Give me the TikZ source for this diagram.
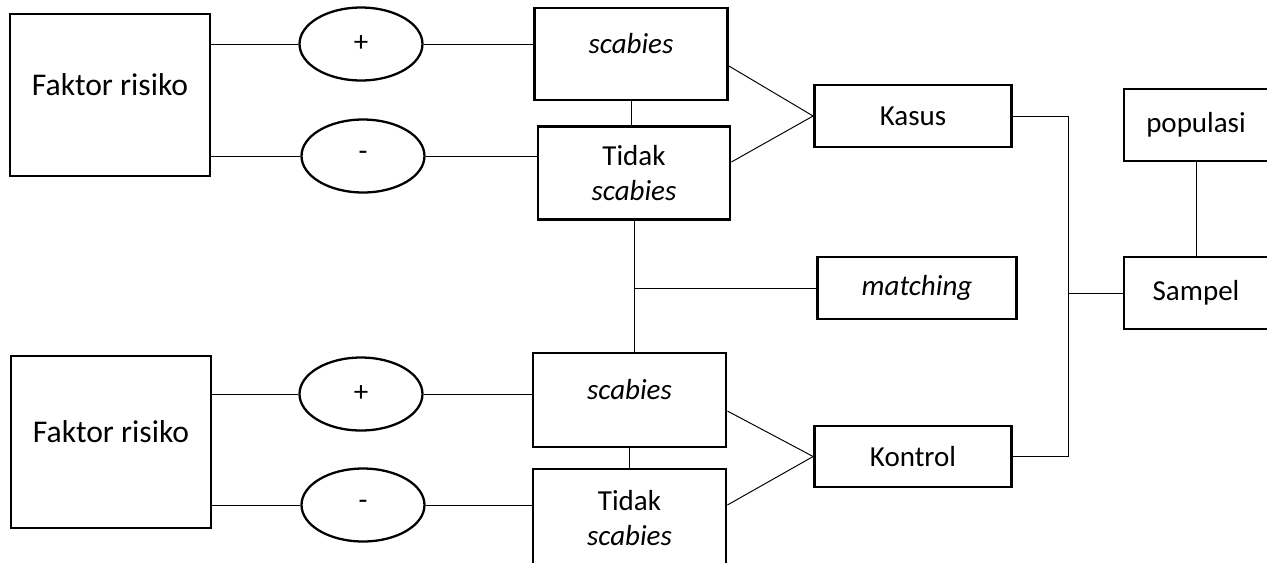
\documentclass[tikz,border=0pt]{standalone}
\usepackage{fontspec}
\setmainfont{Carlito}
\usetikzlibrary{shapes.geometric, calc}

\begin{document}
\begin{tikzpicture}[x=0.02cm,y=-0.02cm,
  font=\fontsize{16.5pt}{20pt}\selectfont,
  box/.style={draw,line width=1.6pt,inner sep=0pt,align=center},
  oval/.style={ellipse,draw,line width=1.3pt,inner sep=0pt,minimum width=2.46cm,minimum height=1.46cm},
  upper/.style={label={[yshift=0.2cm]center:#1}},
  bigupper/.style={label={[yshift=0.2cm,font=\fontsize{18pt}{22pt}\selectfont]center:#1}},
  link/.style={line width=0.55pt}]
  \useasboundingbox (0,0) rectangle (1267,562);
  \clip (0,0) rectangle (1267,562);
  % atas
  \node[box,minimum width=4cm,minimum height=3.24cm,bigupper=Faktor risiko] (faktorA) at (110,95) {};
  \node[oval] (plusA) at (361,44) {+};
  \node[oval] (minA) at (363,156) {-};
  \node[box,minimum width=3.86cm,minimum height=1.84cm,upper=\textit{scabies}] (scabA) at (631,54) {};
  \node[box,minimum width=3.84cm,minimum height=1.86cm] (tidakA) at (634,173) {Tidak\\\textit{scabies}};
  \node[box,minimum width=3.94cm,minimum height=1.24cm] (kasus) at (913,116) {Kasus};
  % kanan
  \node[box,minimum width=2.88cm,minimum height=1.44cm] (populasi) at (1196,125) {populasi};
  \node[box,minimum width=2.88cm,minimum height=1.44cm] (sampel) at (1196,293) {Sampel};
  \node[box,minimum width=3.98cm,minimum height=1.24cm] (matching) at (917,288) {\textit{matching}};
  % bawah
  \node[box,minimum width=4cm,minimum height=3.44cm,bigupper=Faktor risiko] (faktorB) at (111,442) {};
  \node[oval] (plusB) at (361,394) {+};
  \node[oval] (minB) at (363,505) {-};
  \node[box,minimum width=3.86cm,minimum height=1.88cm,upper=\textit{scabies}] (scabB) at (629.5,400) {};
  \node[box,minimum width=3.86cm,minimum height=1.96cm] (tidakB) at (629.5,518) {Tidak\\\textit{scabies}};
  \node[box,minimum width=3.94cm,minimum height=1.22cm] (kontrol) at (913,456.5) {Kontrol};
  \coordinate (split) at (1068,293);

  \draw[link] (faktorA.east |- plusA.west) -- (plusA.west);
  \draw[link] (faktorA.east |- minA.west) -- (minA.west);
  \draw[link] (plusA.east) -- (plusA.east -| scabA.west);
  \draw[link] (minA.east) -- (minA.east -| tidakA.west);
  \draw[link] ([yshift=-0.24cm]scabA.east) -- (kasus.west);
  \draw[link] ([yshift=0.22cm]tidakA.east) -- (kasus.west);
  \draw[link] (scabA.south) -- (scabA.south |- tidakA.north);
  \draw[link] (tidakA.south) -- (tidakA.south |- scabB.north);
  \draw[link] (tidakA.south |- matching.west) -- (matching.west);
  \draw[link] (faktorB.east |- plusB.west) -- (plusB.west);
  \draw[link] (faktorB.east |- minB.west) -- (minB.west);
  \draw[link] (plusB.east) -- (plusB.east -| scabB.west);
  \draw[link] (minB.east) -- (minB.east -| tidakB.west);
  \draw[link] ([yshift=-0.22cm]scabB.east) -- (kontrol.west);
  \draw[link] ([yshift=0.26cm]tidakB.east) -- (kontrol.west);
  \draw[link] (scabB.south) -- (scabB.south |- tidakB.north);
  \draw[link] (kasus.east) -| (split) |- (kontrol.east);
  \draw[link] (split) -- (sampel.west);
  \draw[link] (populasi.south) -- (sampel.north);
\end{tikzpicture}
\end{document}
